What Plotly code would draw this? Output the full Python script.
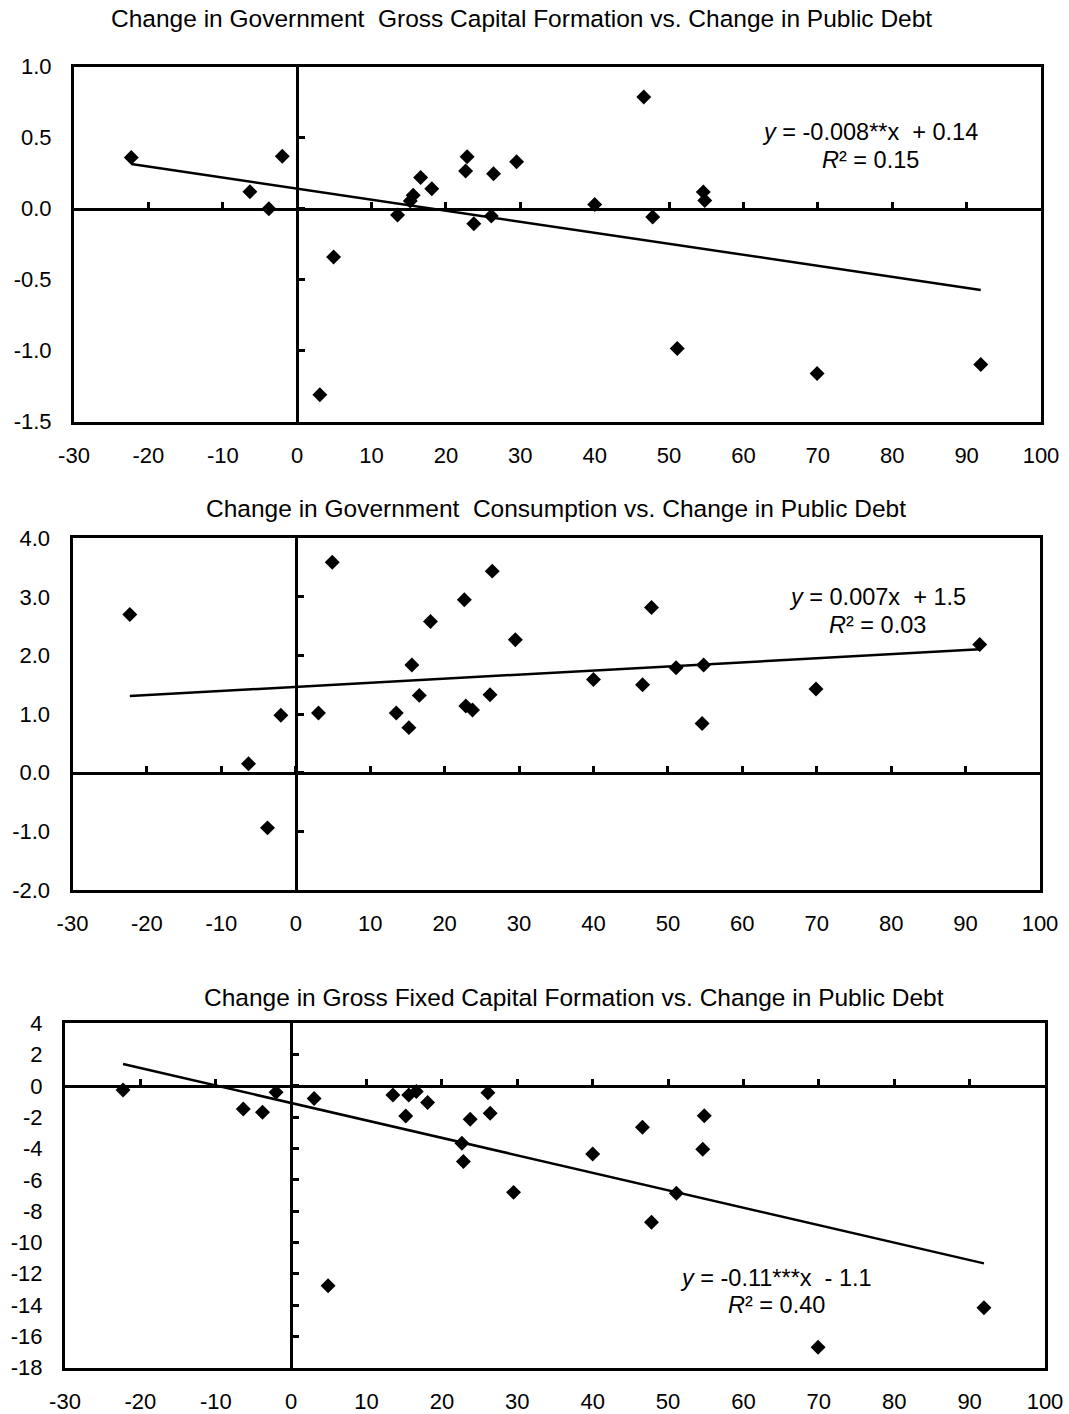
import numpy as np
import plotly.graph_objects as go

# ---------------- data ----------------
debt_change = [-22.3, -6.35, -3.8, -2.0, 3.05, 4.9, 13.5, 15.2, 15.6, 16.6, 18.1,
               22.65, 22.85, 23.75, 26.1, 26.4, 29.5, 40.0, 46.6, 47.8, 51.1,
               54.6, 54.8, 69.9, 91.9]

gov_gcf_change = [0.36, 0.12, 0.00, 0.37, -1.31, -0.34, -0.045, 0.054, 0.094, 0.22, 0.14,
                  0.265, 0.366, -0.106, -0.052, 0.246, 0.33, 0.03, 0.786, -0.059, -0.984,
                  0.117, 0.058, -1.16, -1.097]

gov_cons_change = [2.70, 0.155, -0.94, 0.98, 1.02, 3.59, 1.02, 0.77, 1.84, 1.32, 2.58,
                   2.95, 1.14, 1.07, 1.33, 3.44, 2.27, 1.59, 1.50, 2.82, 1.79,
                   0.84, 1.84, 1.43, 2.19]

gfcf_change = [-0.26, -1.47, -1.68, -0.40, -0.81, -12.76, -0.575, -1.92, -0.575, -0.36, -1.06,
               -3.66, -4.83, -2.13, -0.43, -1.75, -6.8, -4.35, -2.64, -8.71, -6.86,
               -4.05, -1.9, -16.7, -14.17]

x_tickvals = [-30, -20, -10, 0, 10, 20, 30, 40, 50, 60, 70, 80, 90, 100]
x_ticktext = ["-30", "-20", "-10", "0", "10", "20", "30", "40", "50", "60", "70", "80", "90", "100"]

y1_tickvals = [-1.5, -1.0, -0.5, 0.0, 0.5, 1.0]
y1_ticktext = ["-1.5", "-1.0", "-0.5", "0.0", "0.5", "1.0"]
y2_tickvals = [-2, -1, 0, 1, 2, 3, 4]
y2_ticktext = ["-2.0", "-1.0", "0.0", "1.0", "2.0", "3.0", "4.0"]
y3_tickvals = [-18, -16, -14, -12, -10, -8, -6, -4, -2, 0, 2, 4]
y3_ticktext = ["-18", "-16", "-14", "-12", "-10", "-8", "-6", "-4", "-2", "0", "2", "4"]

titles = ["Change in Government\u00a0 Gross Capital Formation vs. Change in Public Debt",
          "Change in Government\u00a0 Consumption vs. Change in Public Debt",
          "Change in Gross Fixed Capital Formation vs. Change in Public Debt"]

equations = ["<i>y</i> = -0.008**x\u00a0 + 0.14",
             "<i>y</i> = 0.007x\u00a0 + 1.5",
             "<i>y</i> = -0.11***x\u00a0 - 1.1"]
r_squared = ["<i>R</i>² = 0.15", "<i>R</i>² = 0.03", "<i>R</i>² = 0.40"]

x_range = [-30, 100]
y_ranges = [[-1.5, 1.0], [-2.0, 4.0], [-18, 4]]
y_ticks = [(y1_tickvals, y1_ticktext), (y2_tickvals, y2_ticktext), (y3_tickvals, y3_ticktext)]

# ---------------- layout geometry (page pixels) ----------------
W, H = 1069, 1414
boxes = [(74, 1041, 66.7, 421.7), (72.5, 1040, 538.3, 890), (65, 1045, 1023.3, 1367.7)]
title_pos = [(521, 19), (556, 509), (574, 997)]
eq_pos = [(870, 132), (877, 597), (776, 1278)]
r2_pos = [(870, 159.5), (877, 625), (776, 1305)]

FONT = "Liberation Sans, Arial, sans-serif"
TICK_FS = 22
TITLE_FS = 24.5
EQ_FS = 23.5


def px(x):
    return x / W


def py(y):
    return 1 - y / H


fig = go.Figure()
series = [gov_gcf_change, gov_cons_change, gfcf_change]

layout = dict(width=W, height=H, margin=dict(l=0, r=0, t=0, b=0, autoexpand=False),
              paper_bgcolor="white", plot_bgcolor="white", showlegend=False,
              font=dict(family=FONT, size=TICK_FS, color="black"))
annotations = []

for i, ys in enumerate(series):
    n = i + 1
    xa = f"x{n}" if n > 1 else "x"
    ya = f"y{n}" if n > 1 else "y"
    x0, x1, yt, yb = boxes[i]
    xd = [px(x0), px(x1)]
    yd = [py(yb), py(yt)]
    ymin, ymax = y_ranges[i]
    tv, tt = y_ticks[i]

    # scatter
    fig.add_trace(go.Scatter(x=debt_change, y=ys, mode="markers",
                             marker=dict(symbol="diamond", size=11.5, color="black"),
                             xaxis=xa, yaxis=ya))
    # linear trend
    slope, icpt = np.polyfit(debt_change, ys, 1)
    xs = np.array([min(debt_change), max(debt_change)])
    fig.add_trace(go.Scatter(x=xs, y=slope * xs + icpt, mode="lines",
                             line=dict(color="black", width=2.5),
                             xaxis=xa, yaxis=ya))

    # main axes (box + labels)
    layout[f"xaxis{n if n > 1 else ''}"] = dict(
        domain=xd, anchor=ya, range=x_range, tickmode="array", tickvals=x_tickvals,
        ticktext=x_ticktext, showgrid=False, zeroline=False, automargin=False,
        showline=True, mirror=True, linecolor="black", linewidth=3, ticks="",
        ticklabelstandoff=12, tickfont=dict(size=TICK_FS))
    layout[f"yaxis{n if n > 1 else ''}"] = dict(
        domain=yd, anchor=xa, range=[ymin, ymax], tickmode="array", tickvals=tv,
        ticktext=tt, showgrid=False, zeroline=False, automargin=False,
        showline=True, mirror=True, linecolor="black",
        linewidth=3, ticks="", ticklabelstandoff=15, tickfont=dict(size=TICK_FS))

    # overlay axes through zero (tick marks on the crossing axes)
    ox = 4 + i
    layout[f"xaxis{ox}"] = dict(
        overlaying=xa, anchor="free", automargin=False,
        position=yd[0] + (0 - ymin) / (ymax - ymin) * (yd[1] - yd[0]),
        range=x_range, tickmode="array", tickvals=x_tickvals, showgrid=False,
        zeroline=False, showline=True,
        linecolor="black", linewidth=3, ticks="inside", ticklen=6, tickwidth=3,
        tickcolor="black", showticklabels=False, side="bottom")
    layout[f"yaxis{ox}"] = dict(
        overlaying=ya, anchor="free", automargin=False,
        position=xd[0] + (0 - x_range[0]) / (x_range[1] - x_range[0]) * (xd[1] - xd[0]),
        range=[ymin, ymax], tickmode="array", tickvals=tv, showgrid=False, zeroline=False,
        showline=True, linecolor="black", linewidth=3, ticks="inside", ticklen=6,
        tickwidth=3, tickcolor="black", showticklabels=False, side="left")
    fig.add_trace(go.Scatter(x=[None], y=[None], xaxis=f"x{ox}", yaxis=f"y{ox}",
                             mode="markers", hoverinfo="skip"))

    tx, ty = title_pos[i]
    annotations.append(dict(text=titles[i], x=px(tx), y=py(ty), xref="paper", yref="paper",
                            showarrow=False, xanchor="center", yanchor="middle",
                            font=dict(size=TITLE_FS)))
    ex, ey = eq_pos[i]
    annotations.append(dict(text=equations[i], x=px(ex), y=py(ey), xref="paper",
                            yref="paper", showarrow=False, xanchor="center",
                            yanchor="middle", font=dict(size=EQ_FS)))
    rx, ry = r2_pos[i]
    annotations.append(dict(text=r_squared[i], x=px(rx), y=py(ry), xref="paper",
                            yref="paper", showarrow=False, xanchor="center",
                            yanchor="middle", font=dict(size=EQ_FS)))

layout["annotations"] = annotations
fig.update_layout(**layout)
fig.write_html("out.html", config={"displayModeBar": False},
               post_script="document.body.style.margin='0';document.body.style.padding='0';")
